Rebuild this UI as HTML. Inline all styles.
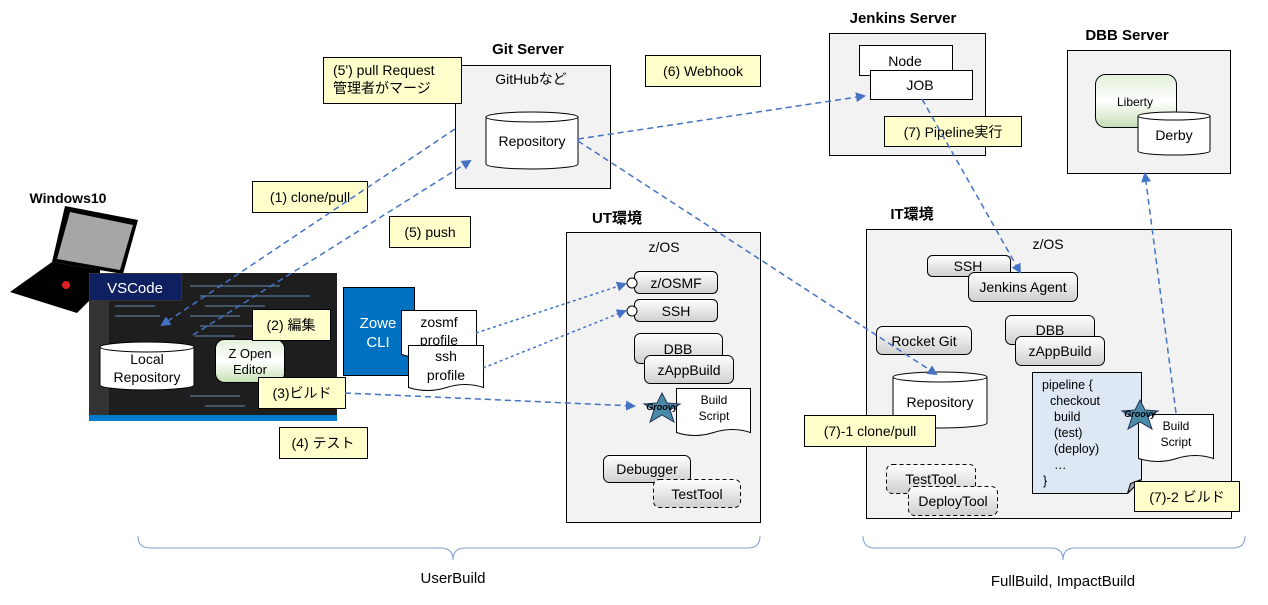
<!DOCTYPE html>
<html><head><meta charset="utf-8"><style>
html,body{margin:0;padding:0;background:#fff;}
svg text{font-family:"Liberation Sans","Noto Sans CJK JP",sans-serif;fill:#000;}
</style></head><body>
<svg width="1268" height="600" viewBox="0 0 1268 600" xmlns="http://www.w3.org/2000/svg">
<defs>
<linearGradient id="pill" x1="0" y1="0" x2="0" y2="1"><stop offset="0" stop-color="#fff"/><stop offset="1" stop-color="#cfcfcf"/></linearGradient>
<linearGradient id="grn" x1="0" y1="0" x2="0" y2="1"><stop offset="0" stop-color="#e2f0d9"/><stop offset="0.5" stop-color="#fff"/><stop offset="1" stop-color="#c5e0b4"/></linearGradient>
<marker id="ar" markerWidth="10" markerHeight="10" refX="8" refY="5" orient="auto" markerUnits="userSpaceOnUse"><path d="M0,0 L10,5 L0,10 z" fill="#4472c4"/></marker>
</defs>
<g font-size="14">
<!-- Git server -->
<text x="528" y="54" font-weight="bold" font-size="15" text-anchor="middle">Git Server</text>
<rect x="455.5" y="65.5" width="155" height="123" fill="#f2f2f2" stroke="#000"/>
<text x="531" y="84" text-anchor="middle">GitHubなど</text>
<path d="M486,117 v47 a46,5 0 0 0 92,0 v-47" fill="#fff" stroke="#000"/>
<ellipse cx="532" cy="117" rx="46" ry="5" fill="#fff" stroke="#000"/>
<text x="532" y="146" text-anchor="middle">Repository</text>
<rect x="323.5" y="57.5" width="138" height="46" fill="#ffffcc" stroke="#000"/>
<text x="333" y="75">(5') pull Request</text><text x="333" y="93">管理者がマージ</text>
<rect x="645.5" y="55.5" width="115" height="31" fill="#ffffcc" stroke="#000"/>
<text x="703" y="76" text-anchor="middle">(6) Webhook</text>
<!-- Jenkins -->
<text x="903" y="23" font-weight="bold" font-size="15" text-anchor="middle">Jenkins Server</text>
<rect x="829.5" y="33.5" width="156" height="122" fill="#f2f2f2" stroke="#000"/>
<rect x="859.5" y="45.5" width="93" height="30" fill="#fff" stroke="#000"/>
<text x="905" y="66" text-anchor="middle">Node</text>
<rect x="870.5" y="70.5" width="102" height="29" fill="#fff" stroke="#000"/>
<text x="920" y="90" text-anchor="middle">JOB</text>
<rect x="884.5" y="116.5" width="137" height="30" fill="#ffffcc" stroke="#000"/>
<text x="953" y="137" text-anchor="middle">(7) Pipeline実行</text>
<!-- DBB -->
<text x="1127" y="40" font-weight="bold" font-size="15" text-anchor="middle">DBB Server</text>
<rect x="1067.5" y="50.5" width="163" height="123" fill="#f2f2f2" stroke="#000"/>
<rect x="1095.5" y="74.5" width="81" height="53" rx="10" fill="url(#grn)" stroke="#000"/>
<text x="1135" y="106" text-anchor="middle" font-size="12">Liberty</text>
<path d="M1138,116 v35 a36,4 0 0 0 72,0 v-35" fill="#fff" stroke="#000"/>
<ellipse cx="1174" cy="116" rx="36" ry="4" fill="#fff" stroke="#000"/>
<text x="1174" y="140" text-anchor="middle">Derby</text>
<!-- Windows -->
<text x="68" y="203" font-weight="bold" font-size="14" text-anchor="middle">Windows10</text>
<polygon points="52,262 10,292 77,313 100,290 100,270" fill="#000"/>
<polygon points="65,206 138,220 123,274 52,262" fill="#000"/>
<polygon points="70,212 133,225 120,270 57,259" fill="#a6a6a6"/>
<circle cx="66" cy="285" r="4" fill="#e02020"/>
<!-- VSCode screenshot -->
<rect x="89" y="273" width="248" height="148" fill="#1e1e1e"/>
<rect x="89" y="273" width="20" height="148" fill="#333"/>
<rect x="89" y="415" width="248" height="6" fill="#007acc"/>
<g fill="#5a7a9a" opacity="0.6">
<rect x="190" y="285" width="90" height="2"/><rect x="200" y="295" width="110" height="2"/><rect x="205" y="305" width="60" height="2"/><rect x="190" y="315" width="50" height="2"/><rect x="200" y="325" width="70" height="2"/><rect x="195" y="335" width="40" height="2"/><rect x="190" y="395" width="50" height="2"/><rect x="205" y="405" width="40" height="2"/><rect x="115" y="305" width="40" height="2"/><rect x="115" y="315" width="45" height="2"/></g>
<rect x="89.5" y="273.5" width="92" height="27" fill="#0f2060" stroke="#333"/>
<text x="135" y="293" text-anchor="middle" style="fill:#fff" font-size="15">VSCode</text>
<path d="M100,347 v38 a47,5 0 0 0 94,0 v-38" fill="#fff" stroke="#000"/>
<ellipse cx="147" cy="347" rx="47" ry="5" fill="#fff" stroke="#000"/>
<text x="147" y="364" text-anchor="middle">Local</text><text x="147" y="382" text-anchor="middle">Repository</text>
<rect x="215.5" y="339.5" width="69" height="43" rx="9" fill="url(#grn)" stroke="#000"/>
<text x="250" y="358" text-anchor="middle" font-size="13">Z Open</text><text x="250" y="374" text-anchor="middle" font-size="13">Editor</text>
<rect x="252.5" y="309.5" width="78" height="31" fill="#ffffcc" stroke="#000"/>
<text x="291" y="330" text-anchor="middle">(2) 編集</text>
<rect x="258.5" y="377.5" width="87" height="31" fill="#ffffcc" stroke="#000"/>
<text x="302" y="398" text-anchor="middle">(3)ビルド</text>
<rect x="279.5" y="427.5" width="88" height="31" fill="#ffffcc" stroke="#000"/>
<text x="323" y="448" text-anchor="middle">(4) テスト</text>
<rect x="252.5" y="181.5" width="115" height="31" fill="#ffffcc" stroke="#000"/>
<text x="310" y="202" text-anchor="middle">(1) clone/pull</text>
<rect x="389.5" y="216.5" width="81" height="31" fill="#ffffcc" stroke="#000"/>
<text x="430" y="237" text-anchor="middle">(5) push</text>
<!-- Zowe -->
<rect x="343.5" y="287.5" width="71" height="88" fill="#0070c0" stroke="#000"/>
<text x="378" y="328" text-anchor="middle" style="fill:#fff" font-size="15">Zowe</text><text x="378" y="347" text-anchor="middle" style="fill:#fff" font-size="15">CLI</text>
<path d="M401.5,310.5 h75 v44 q-18,-6 -37,0 t-38,0 z" fill="#fff" stroke="#000"/>
<text x="439" y="327" text-anchor="middle">zosmf</text><text x="439" y="345" text-anchor="middle">profile</text>
<path d="M408.5,345.5 h75 v42 q-18,-6 -37,0 t-38,0 z" fill="#fff" stroke="#000"/>
<text x="446" y="361" text-anchor="middle">ssh</text><text x="446" y="380" text-anchor="middle">profile</text>
<!-- UT -->
<text x="617" y="223" font-weight="bold" font-size="15" text-anchor="middle">UT環境</text>
<rect x="566.5" y="232.5" width="194" height="290" fill="#f2f2f2" stroke="#000"/>
<text x="664" y="252" text-anchor="middle">z/OS</text>
<rect x="634.5" y="271.5" width="83" height="22" rx="5" fill="url(#pill)" stroke="#000"/>
<text x="676" y="288" text-anchor="middle">z/OSMF</text>
<circle cx="632" cy="283" r="5" fill="#fff" stroke="#000"/>
<rect x="634.5" y="299.5" width="83" height="22" rx="5" fill="url(#pill)" stroke="#000"/>
<text x="676" y="316" text-anchor="middle">SSH</text>
<circle cx="632" cy="311" r="5" fill="#fff" stroke="#000"/>
<rect x="634.5" y="333.5" width="88" height="30" rx="6" fill="url(#pill)" stroke="#000"/>
<text x="678" y="354" text-anchor="middle">DBB</text>
<rect x="644.5" y="355.5" width="89" height="28" rx="6" fill="url(#pill)" stroke="#000"/>
<text x="689" y="375" text-anchor="middle">zAppBuild</text>
<path d="M676.5,388.5 h74 v44 q-18,-6 -37,0 t-37,0 z" fill="#fff" stroke="#000"/>
<text x="714" y="404" text-anchor="middle" font-size="12">Build</text><text x="714" y="420" text-anchor="middle" font-size="12">Script</text>
<polygon points="662,393 667,403 680,404 670,410 674,422 662,415 650,422 654,410 644,404 657,403" fill="#4a8aa8" stroke="#235"/>
<text x="662" y="410" text-anchor="middle" font-size="9" font-style="italic" font-weight="bold">Groovy</text>
<rect x="603.5" y="455.5" width="87" height="27" rx="6" fill="url(#pill)" stroke="#000"/>
<text x="647" y="474" text-anchor="middle">Debugger</text>
<rect x="653.5" y="479.5" width="87" height="28" rx="6" fill="url(#pill)" stroke="#000" stroke-dasharray="4,3"/>
<text x="697" y="499" text-anchor="middle">TestTool</text>
<!-- IT -->
<text x="912" y="219" font-weight="bold" font-size="15" text-anchor="middle">IT環境</text>
<rect x="866.5" y="229.5" width="365" height="289" fill="#f2f2f2" stroke="#000"/>
<text x="1048" y="249" text-anchor="middle">z/OS</text>
<rect x="927.5" y="255.5" width="83" height="21" rx="5" fill="url(#pill)" stroke="#000"/>
<text x="968" y="271" text-anchor="middle">SSH</text>
<rect x="968.5" y="272.5" width="109" height="29" rx="6" fill="url(#pill)" stroke="#000"/>
<text x="1023" y="292" text-anchor="middle">Jenkins Agent</text>
<rect x="876.5" y="326.5" width="95" height="28" rx="6" fill="url(#pill)" stroke="#000"/>
<text x="924" y="346" text-anchor="middle">Rocket Git</text>
<rect x="1005.5" y="315.5" width="89" height="29" rx="6" fill="url(#pill)" stroke="#000"/>
<text x="1050" y="335" text-anchor="middle">DBB</text>
<rect x="1015.5" y="336.5" width="89" height="29" rx="6" fill="url(#pill)" stroke="#000"/>
<text x="1060" y="356" text-anchor="middle">zAppBuild</text>
<path d="M893,377 v46 a47,5 0 0 0 94,0 v-46" fill="#fff" stroke="#000"/>
<ellipse cx="940" cy="377" rx="47" ry="5" fill="#fff" stroke="#000"/>
<text x="940" y="407" text-anchor="middle">Repository</text>
<rect x="804.5" y="415.5" width="131" height="31" fill="#ffffcc" stroke="#000"/>
<text x="870" y="436" text-anchor="middle">(7)-1 clone/pull</text>
<path d="M1032.5,372.5 h109 v107 l-14,14 h-95 z" fill="#dee8f4" stroke="#000"/>
<path d="M1127.5,493.5 l3,-10 l11,-4 z" fill="#a0a8b8" stroke="#000"/>
<g font-size="12.5"><text x="1042" y="389">pipeline {</text><text x="1050" y="405">checkout</text><text x="1054" y="421">build</text><text x="1054" y="437">(test)</text><text x="1054" y="453">(deploy)</text><text x="1054" y="469">…</text><text x="1043" y="485">}</text></g>
<path d="M1138.5,414.5 h75 v44 q-18,-6 -37,0 t-38,0 z" fill="#fff" stroke="#000"/>
<text x="1176" y="430" text-anchor="middle" font-size="12">Build</text><text x="1176" y="446" text-anchor="middle" font-size="12">Script</text>
<polygon points="1140,400 1145,410 1158,411 1148,417 1152,429 1140,422 1128,429 1132,417 1122,411 1135,410" fill="#4a8aa8" stroke="#235"/>
<text x="1140" y="417" text-anchor="middle" font-size="9" font-style="italic" font-weight="bold">Groovy</text>
<rect x="1134.5" y="481.5" width="105" height="30" fill="#ffffcc" stroke="#000"/>
<text x="1187" y="502" text-anchor="middle">(7)-2 ビルド</text>
<rect x="886.5" y="464.5" width="89" height="29" rx="6" fill="url(#pill)" stroke="#000" stroke-dasharray="4,3"/>
<text x="931" y="484" text-anchor="middle">TestTool</text>
<rect x="908.5" y="486.5" width="89" height="29" rx="6" fill="url(#pill)" stroke="#000" stroke-dasharray="4,3"/>
<text x="953" y="506" text-anchor="middle">DeployTool</text>
<!-- braces -->
<path d="M138,536 q0,12 12,12 h291 q12,0 12,12 q0,-12 12,-12 h283 q12,0 12,-12" fill="none" stroke="#7f9fd0"/>
<path d="M863,536 q0,12 12,12 h176 q12,0 12,12 q0,-12 12,-12 h158 q12,0 12,-12" fill="none" stroke="#7f9fd0"/>
<text x="453" y="583" text-anchor="middle" font-size="15">UserBuild</text>
<text x="1063" y="586" text-anchor="middle" font-size="15">FullBuild, ImpactBuild</text>
</g>
<!-- connectors -->
<g stroke="#4472c4" stroke-width="1.5" fill="none" stroke-dasharray="6,4">
<line x1="455" y1="129" x2="162" y2="325" marker-end="url(#ar)"/>
<line x1="193" y1="335" x2="470" y2="161" marker-end="url(#ar)"/>
<line x1="578" y1="139" x2="864" y2="96" marker-end="url(#ar)"/>
<line x1="578" y1="141" x2="936" y2="374" marker-end="url(#ar)"/>
<line x1="922" y1="99" x2="1020" y2="272" marker-end="url(#ar)"/>
<line x1="1176" y1="413" x2="1145" y2="174" marker-end="url(#ar)"/>
<line x1="345" y1="393" x2="634" y2="406" marker-end="url(#ar)"/>
</g>
<g stroke="#4472c4" stroke-width="1.5" fill="none" stroke-dasharray="3,3">
<line x1="476" y1="333" x2="625" y2="284" marker-end="url(#ar)"/>
<line x1="483" y1="368" x2="625" y2="311" marker-end="url(#ar)"/>
</g>
</svg>
</body></html>
